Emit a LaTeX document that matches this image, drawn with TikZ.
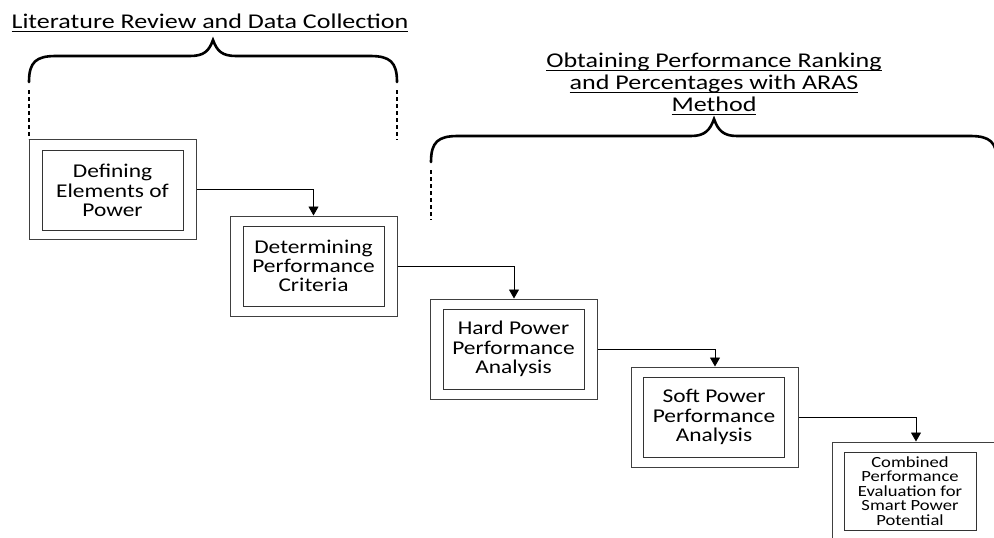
\documentclass[tikz,border=0pt]{standalone}
\usepackage{fontspec}
\setmainfont{Carlito}[FakeStretch=1.2]
\newfontfamily\titlefont{Carlito}[FakeStretch=1.24]
\usetikzlibrary{arrows.meta}
\newcommand{\tul}[1]{\setbox0\hbox{#1}\rlap{\rule[-3.4pt]{\wd0}{1.1pt}}\box0}
\begin{document}
\begin{tikzpicture}[x=1pt,y=-1pt,
  outerbox/.style={draw=black!75,line width=1pt,minimum width=167pt,minimum height=100pt,inner sep=0pt},
  innerbox/.style={draw=black!80,line width=1pt,minimum width=141pt,minimum height=80pt,inner sep=0pt,align=center,
    font=\fontsize{19.5}{19.3}\selectfont},
  smalltext/.style={font=\fontsize{15.5}{14.4}\selectfont},
  flow/.style={draw=black,line width=0.9pt,-{Triangle[length=9pt,width=10pt]}},
  brace/.style={draw=black,line width=2.6pt,line cap=round},
  guide/.style={draw=black,line width=1.3pt,dash pattern=on 4pt off 3pt},
  title/.style={align=center,inner sep=0pt,font=\titlefont\fontsize{21}{22}\selectfont}]
\useasboundingbox (0,0) rectangle (994,538);

% outer frames
\node[outerbox] (o1) at (113,189.5) {};
\node[outerbox] (o2) at (313.5,266) {};
\node[outerbox] (o3) at (514,349) {};
\node[outerbox] (o4) at (715,417) {};
\node[outerbox] (o5) at (916,492) {};

% inner boxes
\node[innerbox] (i1) at (112.5,190.5) {Defining\\Elements of\\Power};
\node[innerbox] (i2) at (313.5,266) {Determining\\Performance\\Criteria};
\node[innerbox] (i3) at (513.5,349) {Hard Power\\Performance\\Analysis};
\node[innerbox] (i4) at (714,417) {Soft Power\\Performance\\Analysis};
\node[innerbox,smalltext,minimum width=132pt,minimum height=78pt] (i5) at (910,491) {Combined\\Performance\\Evaluation for\\Smart Power\\Potential};

% connectors
\draw[flow] (o1.east) -| (o2.north);
\draw[flow] (o2.east) -| (o3.north);
\draw[flow] (o3.east) -| (o4.north);
\draw[flow] (o4.east) -| (o5.north);

% titles
\node[title,anchor=base] (t1) at (210,28.5) {\tul{Literature Review and Data Collection}};
\node[title] (t2) at (714,84) {\tul{Obtaining Performance Ranking}\\\tul{and Percentages with ARAS}\\\tul{Method}};

% braces
\draw[brace] (29,82) .. controls (29,62) and (36,56) .. (56,56) -- (190,56)
  .. controls (204,56) and (209,51) .. (213,40)
  .. controls (217,51) and (222,56) .. (236,56) -- (370,56)
  .. controls (390,56) and (397,62) .. (397,82);
\draw[brace] (431,162) .. controls (431,142) and (438,136) .. (458,136) -- (691,136)
  .. controls (705,136) and (710,130) .. (714,119)
  .. controls (718,130) and (723,136) .. (737,136) -- (970,136)
  .. controls (990,136) and (997,142) .. (997,162);

% dashed guides
\coordinate (g1) at (29,90);
\coordinate (g2a) at (397,90);
\coordinate (g2b) at (397,140);
\coordinate (g3a) at (431,170);
\coordinate (g3b) at (431,220);
\draw[guide] (g1) -- (o1.north west);
\draw[guide] (g2a) -- (g2b);
\draw[guide] (g3a) -- (g3b);
\end{tikzpicture}
\end{document}
